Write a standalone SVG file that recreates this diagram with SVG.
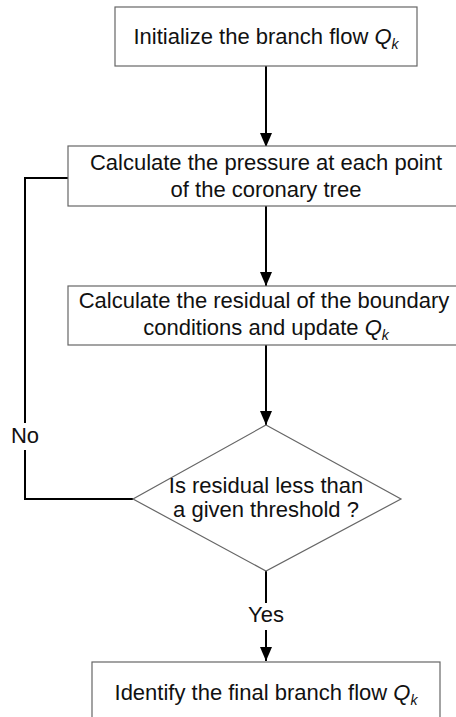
<svg xmlns="http://www.w3.org/2000/svg" width="456" height="717" viewBox="0 0 456 717">
<style>
.box{fill:#fff;stroke:#666;stroke-width:1.2}
.t{font-family:"Liberation Sans",Arial,sans-serif;font-size:22px;fill:#111;text-anchor:middle}
.c{fill:none;stroke:#000;stroke-width:2}
.i{font-style:italic}
.s{font-style:italic;font-size:14px}
</style>
<defs>
<marker id="ah" markerUnits="userSpaceOnUse" markerWidth="14" markerHeight="12" refX="14" refY="6" orient="auto">
<path d="M0,0 L14,6 L0,12 z" fill="#000"/>
</marker>
</defs>
<rect width="456" height="717" fill="#fff"/>
<g id="connectors">
<path class="c" d="M266,66 V147" marker-end="url(#ah)"/>
<path class="c" d="M266,206 V286" marker-end="url(#ah)"/>
<path class="c" d="M266,345 V425" marker-end="url(#ah)"/>
<path class="c" d="M266,571 V603"/>
<path class="c" d="M266,630 V661" marker-end="url(#ah)"/>
<path class="c" d="M133,499 H25 V450"/>
<path class="c" d="M25,423 V178 H68"/>
<text class="t" x="25" y="443">No</text>
<text class="t" x="266" y="622">Yes</text>
</g>
<g id="n1">
<rect class="box" x="115" y="7" width="302" height="59"/>
<text class="t" x="266" y="44">Initialize the branch flow <tspan class="i">Q</tspan><tspan class="s" dy="5">k</tspan></text>
</g>
<g id="n2">
<rect class="box" x="68" y="146" width="400" height="60"/>
<text class="t" x="266" y="170">Calculate the pressure at each point</text>
<text class="t" x="266" y="197">of the coronary tree</text>
</g>
<g id="n3">
<rect class="box" x="68" y="286" width="400" height="59"/>
<text class="t" x="264" y="308">Calculate the residual of the boundary</text>
<text class="t" x="266" y="335">conditions and update <tspan class="i">Q</tspan><tspan class="s" dy="5">k</tspan></text>
</g>
<g id="n4">
<polygon class="box" points="266,425 401,499 266,571 133,499"/>
<text class="t" x="266" y="493">Is residual less than</text>
<text class="t" x="266" y="517">a given threshold ?</text>
</g>
<g id="n5">
<rect class="box" x="92" y="662" width="348" height="70"/>
<text class="t" x="266" y="700">Identify the final branch flow <tspan class="i">Q</tspan><tspan class="s" dy="5">k</tspan></text>
</g>
</svg>
